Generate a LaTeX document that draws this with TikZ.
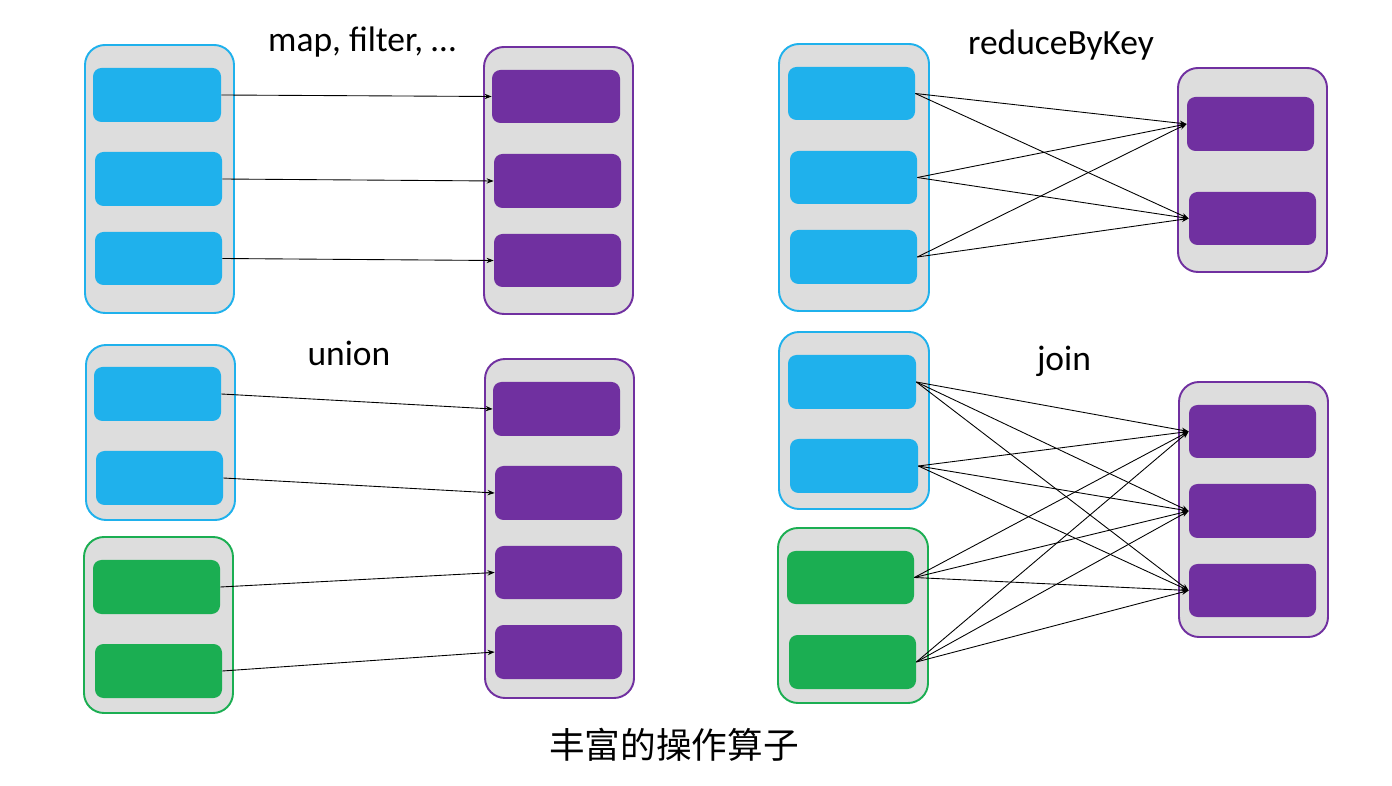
\documentclass[tikz,border=0pt]{standalone}
\usepackage{fontspec}
\setmainfont{Carlito}
\newfontfamily\cjk{Noto Sans CJK SC}
\usetikzlibrary{fit,arrows.meta}
\definecolor{cblue}{HTML}{1FB1EC}
\definecolor{cpurple}{HTML}{7030A0}
\definecolor{cgreen}{HTML}{1BAE52}
\definecolor{cgray}{HTML}{DDDDDD}
\tikzset{
  cont/.style={rounded corners=0.4cm, fill=cgray, line width=1.1pt, inner sep=0pt},
  bluecont/.style={cont, draw=cblue},
  greencont/.style={cont, draw=cgreen},
  purcont/.style={cont, draw=cpurple},
  part/.style={rounded corners=0.17cm, inner sep=0pt},
  bluepart/.style={part, fill=cblue},
  greenpart/.style={part, fill=cgreen},
  purpart/.style={part, fill=cpurple},
  link/.style={line width=0.5pt, -{Stealth[length=4pt,width=3pt]}},
  lbl/.style={font=\fontsize{20.2}{22}\selectfont, inner sep=0pt},
}
\newcommand\pbox[6]{\node[#6, fit={(#2,#3) (#4,#5)}] (#1) {};}
\begin{document}
\begin{tikzpicture}[x=0.02cm,y=-0.02cm]
\useasboundingbox (0,0) rectangle (1392,786);
% Panel 1: map
\pbox{ma}{85}{45}{234}{313}{bluecont}
\pbox{ma1}{93}{68}{221}{122}{bluepart}
\pbox{ma2}{95}{152}{222}{206}{bluepart}
\pbox{ma3}{95}{232}{222}{285}{bluepart}
\pbox{mb}{484}{47}{633}{314}{purcont}
\pbox{mb1}{492}{70}{620}{123}{purpart}
\pbox{mb2}{494}{154}{621}{208}{purpart}
\pbox{mb3}{494}{234}{621}{287}{purpart}
\node[lbl] (tmap) at (362,42) {map, filter, …};
\draw[link] (ma1.east) -- (mb1.west);
\draw[link] (ma2.east) -- (mb2.west);
\draw[link] (ma3.east) -- (mb3.west);
% Panel 2: union
\pbox{ua}{86}{345}{235}{520}{bluecont}
\pbox{ua1}{94}{367}{221}{421}{bluepart}
\pbox{ua2}{96}{451}{223}{505}{bluepart}
\pbox{ug}{84}{537}{233}{713}{greencont}
\pbox{ug1}{93}{560}{220}{614}{greenpart}
\pbox{ug2}{95}{644}{222}{698}{greenpart}
\pbox{ub}{485}{359}{634}{698}{purcont}
\pbox{ub1}{493}{382}{620}{436}{purpart}
\pbox{ub2}{495}{466}{622}{520}{purpart}
\pbox{ub3}{495}{546}{622}{599}{purpart}
\pbox{ub4}{495}{625}{622}{679}{purpart}
\node[lbl] (tunion) at (349,353) {union};
\draw[link] (ua1.east) -- (ub1.west);
\draw[link] (ua2.east) -- (ub2.west);
\draw[link] (ug1.east) -- (ub3.west);
\draw[link] (ug2.east) -- (ub4.west);
% Panel 3: reduceByKey
\pbox{ra}{779}{44}{929}{311}{bluecont}
\pbox{ra1}{788}{67}{915}{120}{bluepart}
\pbox{ra2}{790}{151}{917}{204}{bluepart}
\pbox{ra3}{790}{230}{917}{284}{bluepart}
\pbox{rb}{1178}{68}{1327}{272}{purcont}
\pbox{rb1}{1187}{97}{1314}{151}{purpart}
\pbox{rb2}{1189}{192}{1316}{245}{purpart}
\node[lbl] (treduce) at (1061,45) {reduceByKey};
\foreach \s in {ra1,ra2,ra3}{
  \foreach \t in {rb1,rb2}{
    \draw[link] (\s.east) -- (\t.west);
  }
}
% Panel 4: join
\pbox{ja}{779}{332}{929}{509}{bluecont}
\pbox{ja1}{788}{355}{916}{409}{bluepart}
\pbox{ja2}{790}{439}{918}{493}{bluepart}
\pbox{jg}{778}{528}{928}{703}{greencont}
\pbox{jg1}{787}{551}{914}{604}{greenpart}
\pbox{jg2}{789}{635}{916}{689}{greenpart}
\pbox{jb}{1179}{382}{1328}{637}{purcont}
\pbox{jb1}{1189}{405}{1316}{458}{purpart}
\pbox{jb2}{1189}{484}{1316}{538}{purpart}
\pbox{jb3}{1189}{564}{1316}{617}{purpart}
\node[lbl] (tjoin) at (1064,361) {join};
\foreach \s in {ja1,ja2,jg1,jg2}{
  \foreach \t in {jb1,jb2,jb3}{
    \draw[link] (\s.east) -- (\t.west);
  }
}
% Title
\node[inner sep=0pt, font=\cjk\fontsize{20.3}{23}\selectfont] (title) at (674,745) {丰富的操作算子};
\end{tikzpicture}
\end{document}
